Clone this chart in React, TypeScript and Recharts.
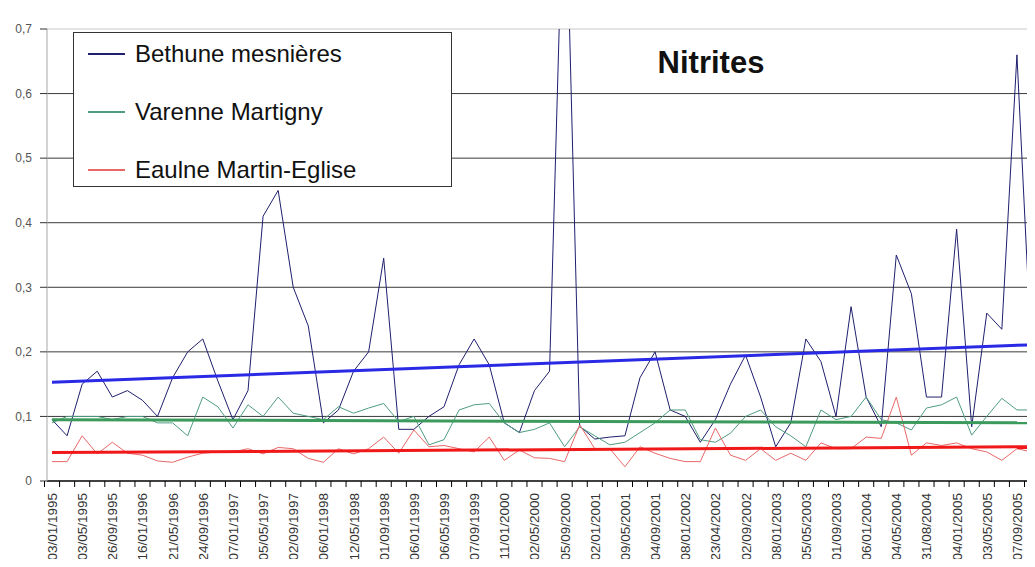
import React from 'react';
import { LineChart, Line, XAxis, YAxis, CartesianGrid, ReferenceLine, Legend } from 'recharts';

// sample dates shown on the axis (every second sample is labelled)
const dateLabels = [
  '03/01/1995', '03/05/1995', '26/09/1995', '16/01/1996', '21/05/1996', '24/09/1996',
  '07/01/1997', '05/05/1997', '02/09/1997', '06/01/1998', '12/05/1998', '01/09/1998',
  '06/01/1999', '06/05/1999', '07/09/1999', '11/01/2000', '02/05/2000', '05/09/2000',
  '02/01/2001', '09/05/2001', '04/09/2001', '08/01/2002', '23/04/2002', '02/09/2002',
  '08/01/2003', '05/05/2003', '01/09/2003', '06/01/2004', '04/05/2004', '31/08/2004',
  '04/01/2005', '03/05/2005', '07/09/2005',
];

const bethune = [
  0.095, 0.07, 0.15, 0.17, 0.13, 0.14, 0.125, 0.1, 0.16, 0.2,
  0.22, 0.155, 0.095, 0.14, 0.41, 0.45, 0.3, 0.24, 0.09, 0.11,
  0.17, 0.2, 0.345, 0.08, 0.08, 0.1, 0.115, 0.18, 0.22, 0.18,
  0.09, 0.075, 0.14, 0.17, 1.0, 0.085, 0.065, 0.068, 0.07, 0.16,
  0.2, 0.11, 0.1, 0.06, 0.095, 0.15, 0.195, 0.13, 0.053, 0.09,
  0.22, 0.185, 0.1, 0.27, 0.13, 0.084, 0.35, 0.29, 0.13, 0.13,
  0.39, 0.084, 0.26, 0.235, 0.66, 0.18,
];

const varenne = [
  0.09, 0.1, 0.1, 0.1, 0.095, 0.1, 0.1, 0.09, 0.09, 0.07,
  0.13, 0.115, 0.082, 0.118, 0.1, 0.13, 0.105, 0.1, 0.095, 0.115,
  0.105, 0.113, 0.12, 0.092, 0.1, 0.056, 0.064, 0.11, 0.118, 0.12,
  0.09, 0.075, 0.08, 0.09, 0.053, 0.084, 0.07, 0.056, 0.06, 0.075,
  0.09, 0.11, 0.11, 0.064, 0.06, 0.074, 0.1, 0.11, 0.084, 0.07,
  0.053, 0.11, 0.095, 0.1, 0.13, 0.095, 0.09, 0.079, 0.113, 0.118,
  0.13, 0.071, 0.1, 0.128, 0.11, 0.11,
];

const eaulne = [
  0.03, 0.03, 0.07, 0.042, 0.06, 0.043, 0.04, 0.031, 0.029, 0.037,
  0.043, 0.045, 0.045, 0.05, 0.042, 0.052, 0.05, 0.035, 0.029, 0.05,
  0.042, 0.05, 0.068, 0.043, 0.079, 0.053, 0.055, 0.05, 0.045, 0.068,
  0.032, 0.048, 0.036, 0.035, 0.03, 0.087, 0.05, 0.05, 0.022, 0.053,
  0.043, 0.035, 0.03, 0.03, 0.082, 0.04, 0.032, 0.05, 0.032, 0.043,
  0.032, 0.059, 0.05, 0.05, 0.068, 0.066, 0.13, 0.04, 0.059, 0.055,
  0.059, 0.05, 0.045, 0.032, 0.05, 0.045,
];

// linear trend lines: value at first and last sample
const trendBethune = [0.153, 0.211];
const trendVarenne = [0.095, 0.09];
const trendEaulne = [0.044, 0.053];

const yTicks = [0, 0.1, 0.2, 0.3, 0.4, 0.5, 0.6, 0.7];

const last = bethune.length - 1;
const data = bethune.map((v, i) => ({
  i,
  bethune: v,
  varenne: varenne[i],
  eaulne: eaulne[i],
  tB: i === 0 ? trendBethune[0] : i === last ? trendBethune[1] : null,
  tG: i === 0 ? trendVarenne[0] : i === last ? trendVarenne[1] : null,
  tR: i === 0 ? trendEaulne[0] : i === last ? trendEaulne[1] : null,
}));

const series = [
  { key: 'bethune', name: 'Bethune mesnières', color: '#1f1f6e' },
  { key: 'varenne', name: 'Varenne Martigny', color: '#4f9c80' },
  { key: 'eaulne', name: 'Eaulne Martin-Eglise', color: '#e86868' },
];

function DateTick({ x, y, payload }: any) {
  const i = payload.value;
  const label = i % 2 === 0 ? dateLabels[i / 2] : null;
  return (
    <g>
      <line x1={x - 7.5} x2={x - 7.5} y1={y} y2={y + 6} stroke="#000" />
      {label && (
        <text transform={`translate(${x + 5},${y + 12}) rotate(-90)`} textAnchor="end"
          fontSize={13.5} fill="#333" fontFamily="'Liberation Sans', Arial, sans-serif">
          {label}
        </text>
      )}
    </g>
  );
}

function LegendBox() {
  return (
    <div style={{ width: 377, height: 153, border: '1px solid #333', background: '#fff',
      fontFamily: "'Liberation Sans', Arial, sans-serif", fontSize: 24, color: '#111' }}>
      {series.map((s, k) => (
        <div key={s.key} style={{ position: 'absolute', left: 15, top: 7 + k * 58, display: 'flex', alignItems: 'center', height: 30 }}>
          <div style={{ width: 37, height: 1.5, background: s.color, marginRight: 10 }} />
          <span>{s.name}</span>
        </div>
      ))}
    </div>
  );
}

export default function App() {
  return (
    <div style={{ margin: -8, width: 1035, height: 567, overflow: 'hidden', background: '#fff', position: 'relative' }}>
      <LineChart width={1035} height={567} data={data} margin={{ top: 29, right: 0, bottom: 0, left: 0 }}>
        <CartesianGrid horizontal vertical={false} stroke="#3a3a3a"
          horizontalValues={[0.1, 0.2, 0.3, 0.4, 0.5, 0.6]} />
        <ReferenceLine y={0.7} stroke="#c8c8c8" />
        <XAxis dataKey="i" type="category" padding={{ left: 5, right: 3 }} interval={0}
          height={86} tickSize={0} tickMargin={0} tickLine={false}
          axisLine={{ stroke: '#000', strokeWidth: 1.5 }} tick={<DateTick />} />
        <YAxis domain={[0, 0.7]} ticks={yTicks} allowDataOverflow width={47}
          tickSize={7} tickMargin={8} axisLine={{ stroke: '#a8a8a8' }} tickLine={{ stroke: '#333' }}
          tick={{ fontSize: 12, fill: '#555', fontFamily: "'Liberation Sans', Arial, sans-serif" }}
          tickFormatter={(v: number) => (v === 0 ? '0' : v.toFixed(1).replace('.', ','))} />
        {series.map((s) => (
          <Line key={s.key} dataKey={s.key} name={s.name} stroke={s.color} strokeWidth={1}
            dot={false} isAnimationActive={false} />
        ))}
        <Line dataKey="tG" stroke="#3c9a5c" strokeWidth={3} dot={false} connectNulls isAnimationActive={false} legendType="none" />
        <Line dataKey="tR" stroke="#f01818" strokeWidth={3} dot={false} connectNulls isAnimationActive={false} legendType="none" />
        <Line dataKey="tB" stroke="#2a2ae6" strokeWidth={3} dot={false} connectNulls isAnimationActive={false} legendType="none" />
        <Legend layout="vertical" align="center" verticalAlign="middle" content={<LegendBox />}
          wrapperStyle={{ left: 73, top: 32, width: 379, height: 155 }} />
        <text x={711} y={73} textAnchor="middle" fontSize={31} fontWeight="bold"
          fontFamily="'Liberation Sans', Arial, sans-serif" fill="#111">Nitrites</text>
      </LineChart>
    </div>
  );
}
